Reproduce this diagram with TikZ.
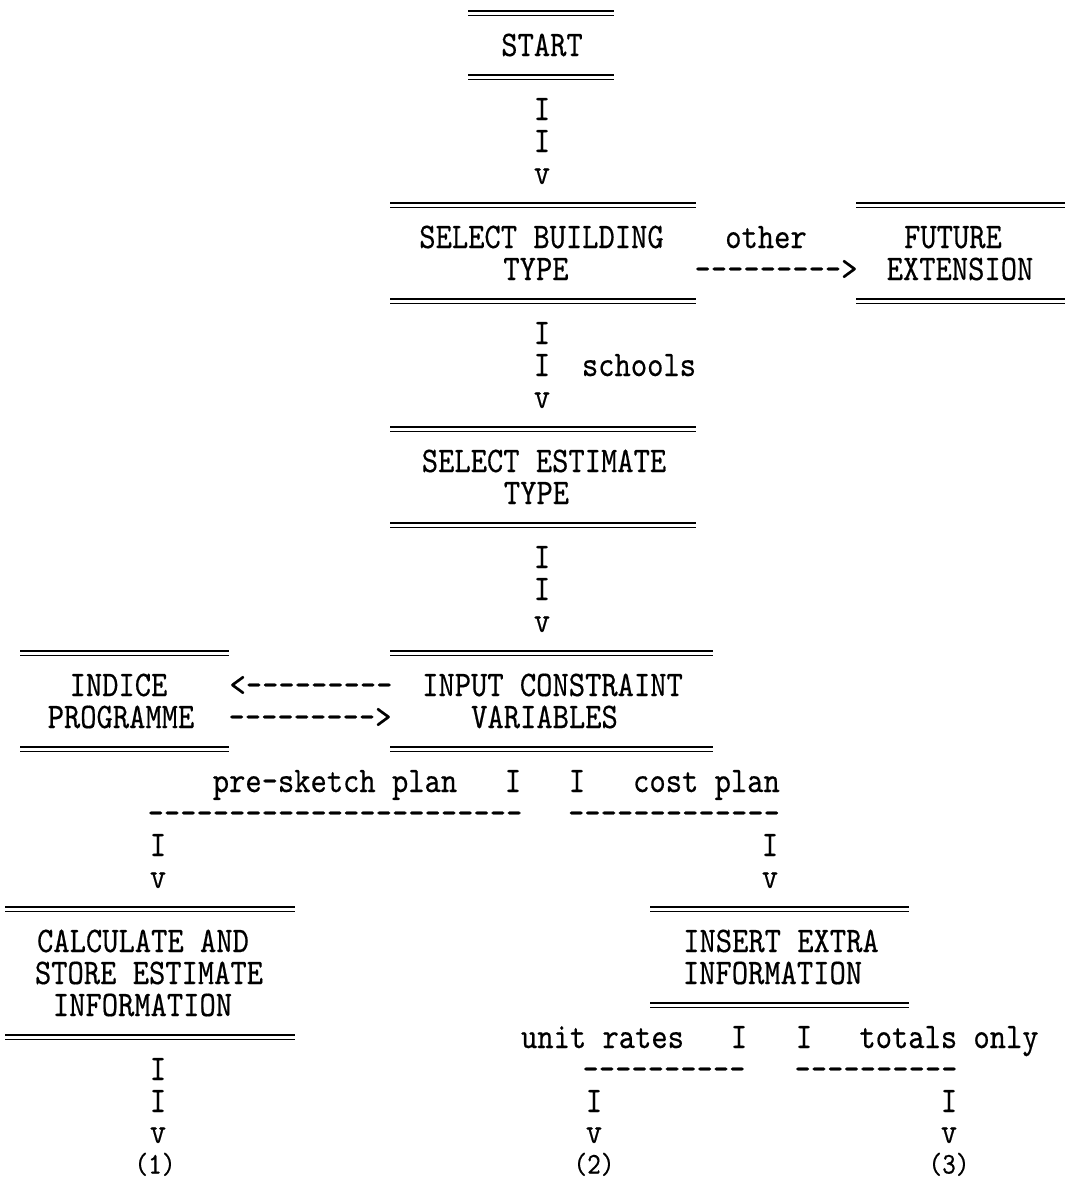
\documentclass[tikz,border=0pt]{standalone}
\usepackage{fontspec}
\newfontfamily\typewriter{lmmono10-regular.otf}[FakeStretch=0.862, FakeBold=0.4, Ligatures=TeXOff]
\tikzset{
  typed/.style={font=\typewriter\fontsize{36}{38}\selectfont, inner sep=0pt, anchor=base, text=black},
  endlabel/.style={typed, font=\typewriter\fontsize{30}{32}\selectfont},
  eqrule/.style={double, line width=1.4pt, double distance=3pt},
}
\begin{document}
\begin{tikzpicture}[x=1pt,y=-1pt]
\useasboundingbox (0,0) rectangle (1065,1179);

% START
\draw[eqrule] (468,13) -- (614,13);
\node[typed] (start) at (542,56) {START};
\draw[eqrule] (468,77) -- (614,77);
\node[typed] (s1) at (542,120) {I};
\node[typed] (s2) at (542,152) {I};
\node[typed] (s3) at (542,184) {v};

% SELECT BUILDING TYPE
\draw[eqrule] (390,205) -- (696,205);
\node[typed] (bld1) at (541.5,248) {SELECT BUILDING};
\node[typed] (bld2) at (536,280) {TYPE};
\draw[eqrule] (390,301) -- (696,301);
\node[typed] (other) at (766,248) {other};
\node[typed] (toext) at (776,280) {--------->};

% FUTURE EXTENSION
\draw[eqrule] (856,205) -- (1065,205);
\node[typed] (fut1) at (953,248) {FUTURE};
\node[typed] (fut2) at (960,280) {EXTENSION};
\draw[eqrule] (856,301) -- (1065,301);

\node[typed] (b1) at (542,344) {I};
\node[typed] (b2) at (542,376) {I};
\node[typed] (schools) at (639,376) {schools};
\node[typed] (b3) at (542,408) {v};

% SELECT ESTIMATE TYPE
\draw[eqrule] (390,429) -- (696,429);
\node[typed] (est1) at (544,472) {SELECT ESTIMATE};
\node[typed] (est2) at (536.5,504) {TYPE};
\draw[eqrule] (390,525) -- (696,525);
\node[typed] (e1) at (542,568) {I};
\node[typed] (e2) at (542,600) {I};
\node[typed] (e3) at (542,632) {v};

% INDICE PROGRAMME
\draw[eqrule] (20,653) -- (229,653);
\node[typed] (ind1) at (118.5,696) {INDICE};
\node[typed] (ind2) at (121,728) {PROGRAMME};
\draw[eqrule] (20,749) -- (229,749);
\node[typed] (toind) at (311,696) {<---------};
\node[typed] (fromind) at (310,728) {--------->};

% INPUT CONSTRAINT VARIABLES
\draw[eqrule] (390,653) -- (713,653);
\node[typed] (inp1) at (552.5,696) {INPUT CONSTRAINT};
\node[typed] (inp2) at (544.5,728) {VARIABLES};
\draw[eqrule] (390,749) -- (713,749);

% branch: pre-sketch plan / cost plan
\node[typed] (presketch) at (335,792) {pre-sketch plan};
\node[typed] (p1) at (513,792) {I};
\node[typed] (c1) at (577,792) {I};
\node[typed] (costplan) at (706.5,792) {cost plan};
\node[typed] (pdash) at (335,824) {-----------------------};
\node[typed] (cdash) at (674,824) {-------------};
\node[typed] (p2) at (158,856) {I};
\node[typed] (p3) at (158,888) {v};
\node[typed] (c2) at (770,856) {I};
\node[typed] (c3) at (770,888) {v};

% CALCULATE AND STORE ESTIMATE INFORMATION
\draw[eqrule] (5,909) -- (295,909);
\node[typed] (calc1) at (143,952) {CALCULATE AND};
\node[typed] (calc2) at (149,984) {STORE ESTIMATE};
\node[typed] (calc3) at (142.5,1016) {INFORMATION};
\draw[eqrule] (5,1037) -- (295,1037);
\node[typed] (k1) at (158,1080) {I};
\node[typed] (k2) at (158,1112) {I};
\node[typed] (k3) at (158,1143) {v};
\node[endlabel] (out1) at (155,1173.5) {(1)};

% INSERT EXTRA INFORMATION
\draw[eqrule] (650,909) -- (909,909);
\node[typed] (ins1) at (781,952) {INSERT EXTRA};
\node[typed] (ins2) at (772.5,984) {INFORMATION};
\draw[eqrule] (650,1005) -- (909,1005);

% branch: unit rates / totals only
\node[typed] (unitrates) at (602.5,1048) {unit rates};
\node[typed] (u1) at (739,1048) {I};
\node[typed] (t1) at (804,1048) {I};
\node[typed] (totals) at (949,1048) {totals only};
\node[typed] (udash) at (664,1080) {----------};
\node[typed] (tdash) at (876,1080) {----------};
\node[typed] (u2) at (594,1112) {I};
\node[typed] (u3) at (594,1143) {v};
\node[endlabel] (out2) at (594,1173.5) {(2)};
\node[typed] (t2) at (949,1112) {I};
\node[typed] (t3) at (949,1143) {v};
\node[endlabel] (out3) at (949,1173.5) {(3)};
\end{tikzpicture}
\end{document}
